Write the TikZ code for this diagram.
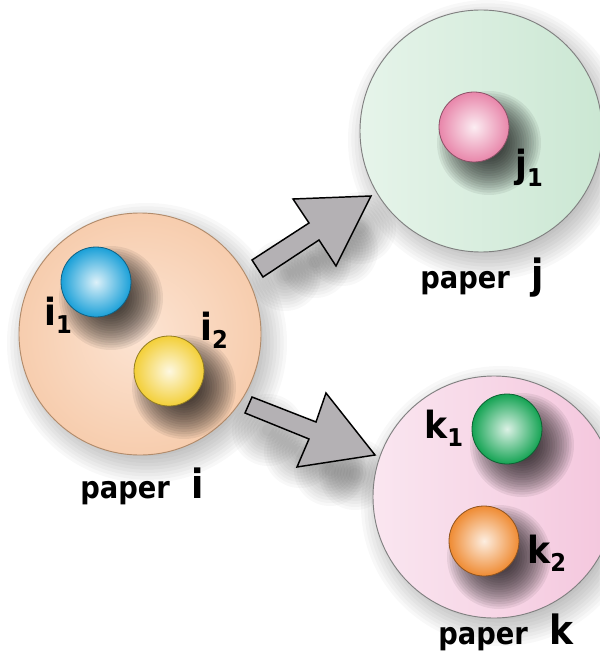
\documentclass[tikz,border=0pt]{standalone}
\usepackage{fontspec}
\setmainfont{DejaVu Sans}

\definecolor{peachE}{HTML}{F7CDAE}
\definecolor{peachC}{HTML}{FCE4D3}
\definecolor{mintL}{HTML}{E6F4EA}
\definecolor{mintR}{HTML}{CBE7D3}
\definecolor{roseL}{HTML}{FAE6F0}
\definecolor{roseR}{HTML}{F4C6DD}
\definecolor{ballblue}{HTML}{1AA0D8}
\definecolor{ballyellow}{HTML}{F3CF38}
\definecolor{ballpink}{HTML}{E886AA}
\definecolor{ballgreen}{HTML}{14A353}
\definecolor{ballorange}{HTML}{EF8B33}
\definecolor{arrowgray}{HTML}{B4B1B4}

% soft shadow made of stacked translucent discs:
% centre, inner radius, outer radius, opacity per disc, number of discs
\newcommand\softshade[5]{%
  \foreach \s in {0,...,#5} {\fill[black, opacity=#4] #1 circle ({#2+(#3-#2)*\s/#5});}}

\newcommand\balltag[2]{\scalebox{1}[1.08]{{\fontsize{26}{26}\selectfont\bfseries #1}\raisebox{-6pt}{\fontsize{17}{17}\selectfont\bfseries #2}}}
\newcommand\papertag[1]{\scalebox{1}[1.12]{{\fontsize{20.5}{20}\selectfont\bfseries paper}\hspace{16pt}{\fontsize{27}{27}\selectfont\bfseries #1}}}

\tikzset{
  papercircle/.style={circle, inner sep=0pt, minimum size=181.5pt, draw=#1, line width=0.7pt},
  sphere/.style={circle, inner sep=0pt, minimum size=52.5pt, draw=#1!60!black,
    line width=0.6pt, inner color=#1!15!white, outer color=#1},
  tag/.style={anchor=base west, inner sep=0pt, text=black},
  blockarrow/.style={fill=arrowgray, draw=black, line width=1.1pt, line join=miter},
}

\begin{document}
\begin{tikzpicture}[x=0.75pt, y=-0.75pt]
\useasboundingbox[fill=white] (0,0) rectangle (599,652);

% drop shadows of the three papers
\softshade{(147,343)}{100}{140}{0.028}{12}
\softshade{(488,140)}{100}{140}{0.028}{12}
\softshade{(501,506)}{100}{140}{0.028}{12}

% shadows under the block arrows
\foreach \p in {(285,275),(315,262),(342,250),(360,228)}
  {\softshade{\p}{6}{36}{0.028}{10}}
\foreach \p in {(268,430),(300,452),(330,470),(355,474)}
  {\softshade{\p}{6}{36}{0.028}{10}}

% papers
\node[papercircle=black!30!peachE!75!brown, inner color=peachC, outer color=peachE] (Pi) at (140,334) {};
\node[papercircle=black!50, left color=mintL, right color=mintR] (Pj) at (481,131) {};
\node[papercircle=black!50, left color=roseL, right color=roseR] (Pk) at (494,497) {};

% ball shadows
\softshade{(111,298)}{14}{52}{0.065}{16}
\softshade{(184,387)}{14}{52}{0.065}{16}
\softshade{(489,143)}{14}{52}{0.065}{16}
\softshade{(522,445)}{14}{52}{0.065}{16}
\softshade{(499,557)}{14}{52}{0.065}{16}

% balls
\node[sphere=ballblue] (i1) at (96,282) {};
\node[sphere=ballyellow] (i2) at (169,371) {};
\node[sphere=ballpink] (j1) at (474,127) {};
\node[sphere=ballgreen] (k1) at (507,429) {};
\node[sphere=ballorange] (k2) at (484,541) {};

% block arrows from paper i to papers j and k
\draw[blockarrow] (252,260) -- (309,223) -- (293,199) -- (371,196) -- (336,266) -- (319,240) -- (263,277) -- cycle;
\draw[blockarrow] (252,397) -- (316,422) -- (326,393) -- (375,455) -- (297,467) -- (309,439) -- (245,413) -- cycle;

% labels
\node[tag] (ti1) at (44,325) {\balltag{i}{1}};
\node[tag] (ti2) at (200,340) {\balltag{i}{2}};
\node[tag] (tj1) at (515,178) {\balltag{j}{1}};
\node[tag] (tk1) at (424,438) {\balltag{k}{1}};
\node[tag] (tk2) at (527,563) {\balltag{k}{2}};

\node[tag] (ti) at (80,498) {\papertag{i}};
\node[tag] (tj) at (420,288) {\papertag{j}};
\node[tag] (tk) at (438,644) {\papertag{k}};
\end{tikzpicture}
\end{document}
